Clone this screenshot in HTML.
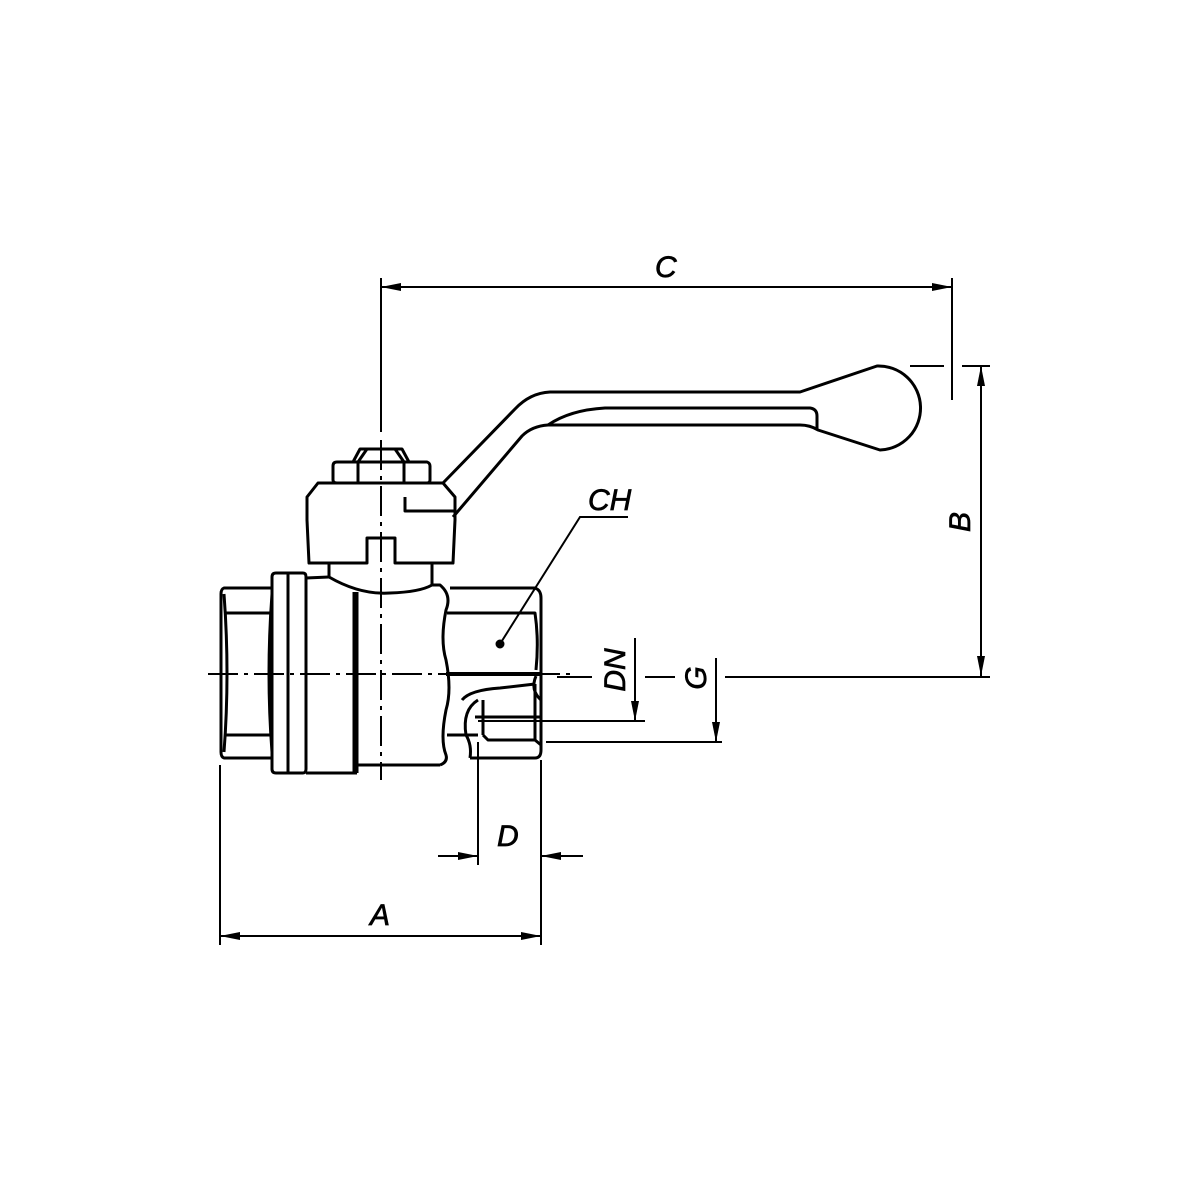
<!DOCTYPE html>
<html><head><meta charset="utf-8"><style>
html,body{margin:0;padding:0;background:#fff;width:1200px;height:1200px;overflow:hidden}
svg{display:block}
text{font-family:"Liberation Sans",sans-serif;font-style:italic;font-size:30px;fill:#000;stroke:#000;stroke-width:0.7}
</style></head><body>
<svg width="1200" height="1200" viewBox="0 0 1200 1200" xmlns="http://www.w3.org/2000/svg">
<defs>
<marker id="ar" viewBox="0 0 20 8" refX="20" refY="4" markerWidth="20" markerHeight="8" markerUnits="userSpaceOnUse" orient="auto-start-reverse">
<path d="M0,0 L20,4 L0,8 Z" fill="#000"/></marker>
</defs>
<g fill="none" stroke="#000" stroke-width="3" stroke-linejoin="round">
<!-- nut -->
<path d="M353,462 L360,449 L402,449 L409,462"/>
<line x1="358" y1="462" x2="367" y2="449"/><line x1="404" y1="462" x2="395" y2="449"/>
<path d="M337,462 L427,462 Q430,463 430,466 L430,480 Q430,483 427,483 L337,483 Q333,483 333,480 L333,466 Q333,462 337,462 Z"/>
<line x1="358" y1="462" x2="358" y2="483"/><line x1="404" y1="462" x2="404" y2="483"/>
<!-- handle block -->
<path d="M318,483 L443,483 L455,497 L455,520 L453,563 L395,563 L395,538 L367,538 L367,563 L309,563 L307,520 L307,497 Z"/>
<path d="M405,497 L405,511 L455,511"/>
<!-- stem -->
<line x1="329" y1="563" x2="329" y2="577"/><line x1="432" y1="563" x2="432" y2="585"/>
<path d="M329,577 Q360,595 390,593 Q420,592 432,585"/>
<!-- lever -->
<path d="M443,483 L515,409 Q530,393 550,392 L800,392 L877,366 A42,42 0 0 1 880,450 L818,430 Q810,425 800,425 L548,425 Q532,426 522,436 L453,517"/>
<path d="M548,425 Q570,410 605,408 L810,408 Q817,409 817,416 L817,430"/>
<!-- left hex -->
<path d="M224,588 L272,588 L272,758 L224,758 Q221,757 221,752 L221,594 Q221,589 224,588 Z"/>
<line x1="224" y1="613" x2="272" y2="613"/><line x1="224" y1="735" x2="272" y2="735"/>
<path d="M224,594 Q230,674 224,752"/><path d="M272,594 Q266,674 272,752"/>
<!-- flange -->
<path d="M276,573 L303,573 Q306,573 306,577 L306,769 Q306,773 303,773 L276,773 Q272,773 272,769 L272,577 Q272,573 276,573 Z"/>
<line x1="288" y1="573" x2="288" y2="773"/>
<!-- body -->
<path d="M306,578 L329,577"/>
<line x1="306" y1="773" x2="357" y2="773"/>
<line x1="357" y1="592" x2="357" y2="773"/><line x1="354" y1="592" x2="354" y2="773"/>
<line x1="357" y1="765" x2="440" y2="765"/>
<path d="M432,585 L440,585 Q452,595 446,610 Q440,640 446,660 Q452,690 446,710 Q440,740 446,755 Q448,762 440,765"/>
<!-- right hex -->
<path d="M450,588 L535,588 Q541,590 541,598 L541,750 Q541,758 535,758 L470,758"/>
<path d="M447,613 L535,613 Q539,640 536,670"/>
<path d="M536,676 Q530,690 541,700"/>
<line x1="447" y1="735" x2="478" y2="735"/>
<path d="M462,700 Q470,690 500,688 L535,684"/>
<path d="M478,700 Q462,710 466,735 Q472,745 470,758"/>
<line x1="483" y1="700" x2="483" y2="735"/>
<line x1="475" y1="717" x2="541" y2="717"/>
<path d="M483,735 L488,740 L535,740 L541,745"/>
<line x1="535" y1="684" x2="535" y2="740"/>
<line x1="446" y1="674" x2="540" y2="674" stroke-width="4"/>
<circle cx="500" cy="644" r="3" fill="#000"/>
</g>
<g fill="none" stroke="#000" stroke-width="2">
<path d="M500,644 L580,517 L628,517"/>
<line x1="208" y1="674" x2="570" y2="674" stroke-dasharray="30,6,4,6"/>
<line x1="557" y1="677" x2="592" y2="677"/>
<line x1="645" y1="677" x2="675" y2="677"/>
<line x1="725" y1="677" x2="990" y2="677"/>
<line x1="381" y1="278" x2="381" y2="432"/>
<line x1="381" y1="440" x2="381" y2="780" stroke-dasharray="30,6,4,6"/>
<line x1="952" y1="278" x2="952" y2="400"/>
<line x1="381" y1="287" x2="952" y2="287" marker-start="url(#ar)" marker-end="url(#ar)"/>
<line x1="910" y1="366" x2="944" y2="366"/>
<line x1="962" y1="366" x2="990" y2="366"/>
<line x1="981" y1="366" x2="981" y2="676" marker-start="url(#ar)" marker-end="url(#ar)"/>
<line x1="478" y1="721" x2="645" y2="721"/>
<line x1="635" y1="638" x2="635" y2="721" marker-end="url(#ar)"/>
<line x1="546" y1="742" x2="722" y2="742"/>
<line x1="716" y1="658" x2="716" y2="742" marker-end="url(#ar)"/>
<line x1="478" y1="742" x2="478" y2="865"/>
<line x1="541" y1="760" x2="541" y2="945"/>
<line x1="438" y1="856" x2="478" y2="856" marker-end="url(#ar)"/>
<line x1="583" y1="856" x2="541" y2="856" marker-end="url(#ar)"/>
<line x1="220" y1="765" x2="220" y2="945"/>
<line x1="220" y1="936" x2="541" y2="936" marker-start="url(#ar)" marker-end="url(#ar)"/>
</g>
<text x="655" y="277">C</text>
<text x="588" y="510">CH</text>
<text x="497" y="846">D</text>
<text x="370" y="925">A</text>
<text transform="translate(970,522) rotate(-90)" text-anchor="middle">B</text>
<text transform="translate(625,670) rotate(-90)" text-anchor="middle">DN</text>
<text transform="translate(706,678) rotate(-90)" text-anchor="middle">G</text>
</svg>
</body></html>
